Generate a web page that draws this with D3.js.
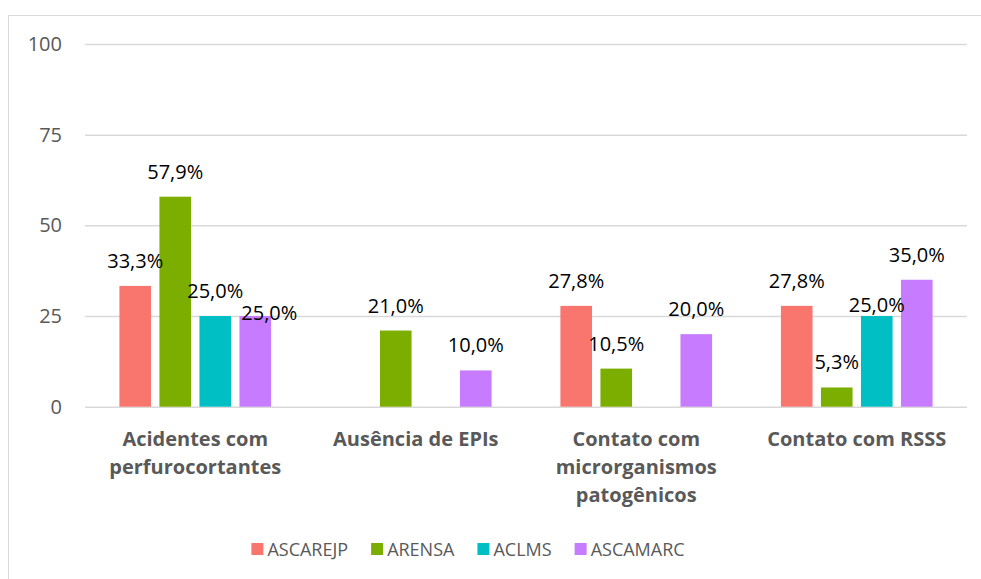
<!DOCTYPE html>
<html>
<head>
<meta charset="utf-8">
<script src="https://cdn.jsdelivr.net/npm/d3@7"></script>
<style>
  body { margin: 0; background: #fff; }
  text { font-family: "Open Sans", sans-serif; }
</style>
</head>
<body>
<svg id="barchart" width="981" height="579"></svg>
<script>
// data
var categories = [
  ["Acidentes com", "perfurocortantes"],
  ["Ausência de EPIs"],
  ["Contato com", "microrganismos", "patogênicos"],
  ["Contato com RSSS"]
];
var series = ["ASCAREJP", "ARENSA", "ACLMS", "ASCAMARC"];
var colors = ["#F8766D", "#7CAE00", "#00BFC4", "#C77CFF"];
var ascarejp = [33.3, null, 27.8, 27.8];
var arensa = [57.9, 21.0, 10.5, 5.3];
var aclms = [25.0, null, null, 25.0];
var ascamarc = [25.0, 10.0, 20.0, 35.0];
var yTicks = [0, 25, 50, 75, 100];

(function() {
  var values = [ascarejp, arensa, aclms, ascamarc];
  var catKeys = categories.map(function(c) { return c.join(" "); });

  var data = [];
  catKeys.forEach(function(cat, i) {
    series.forEach(function(s, j) {
      if (values[j][i] != null) data.push({ cat: cat, ci: i, series: s, si: j, value: values[j][i] });
    });
  });

  var svg = d3.select("#barchart");

  // chart frame
  svg.append("rect")
    .attr("x", 8.5).attr("y", 15.5)
    .attr("width", 990).attr("height", 600)
    .attr("fill", "none")
    .attr("stroke", "#d9d9d9");

  // scales
  var x0 = d3.scaleBand()
    .domain(catKeys)
    .range([85, 967])
    .padding(0);

  var x1 = d3.scaleBand()
    .domain(series)
    .range([0, x0.bandwidth()])
    .paddingInner(0.21)
    .paddingOuter(0.86);

  var y = d3.scaleLinear()
    .domain([0, 100])
    .range([406.7, 44]);

  var color = d3.scaleOrdinal().domain(series).range(colors);

  // gridlines + y labels
  var yAxis = svg.append("g")
    .attr("transform", "translate(85,0)")
    .call(d3.axisLeft(y).tickValues(yTicks).tickSize(-(967 - 85)).tickPadding(23));
  yAxis.select(".domain").remove();
  yAxis.selectAll(".tick line")
    .attr("stroke", "#d9d9d9")
    .attr("stroke-width", 1.5);
  yAxis.selectAll(".tick text")
    .attr("fill", "#595959")
    .attr("font-size", 20)
    .attr("font-family", "Open Sans, sans-serif");

  // bars
  var bars = svg.append("g").selectAll("rect")
    .data(data)
    .enter()
    .append("rect")
    .attr("x", function(d) { return x0(d.cat) + x1(d.series); })
    .attr("y", function(d) { return y(d.value); })
    .attr("width", x1.bandwidth())
    .attr("height", function(d) { return y(0) - y(d.value); })
    .attr("fill", function(d) { return color(d.series); });

  // value labels (a couple were pushed aside in the original to avoid overlap)
  var pt = d3.formatLocale({ decimal: ",", thousands: ".", grouping: [3], currency: ["", ""] });
  var fmt = pt.format(".1f");
  var nudge = { "0|ASCAMARC": [14, 22], "3|ACLMS": [0, 14] };

  svg.append("g").selectAll("text")
    .data(data)
    .enter()
    .append("text")
    .attr("x", function(d) {
      var n = nudge[d.ci + "|" + d.series] || [0, 0];
      return x0(d.cat) + x1(d.series) + x1.bandwidth() / 2 + n[0];
    })
    .attr("y", function(d) {
      var n = nudge[d.ci + "|" + d.series] || [0, 0];
      return y(d.value) - 18 + n[1];
    })
    .attr("text-anchor", "middle")
    .attr("font-size", 20)
    .attr("fill", "#000")
    .text(function(d) { return fmt(d.value) + "%"; });

  // category labels
  var cats = svg.append("g").selectAll("text")
    .data(categories)
    .enter()
    .append("text")
    .attr("text-anchor", "middle")
    .attr("font-size", 20)
    .attr("font-weight", "bold")
    .attr("fill", "#595959");
  cats.selectAll("tspan")
    .data(function(d, i) { return d.map(function(line) { return { line: line, ci: i }; }); })
    .enter()
    .append("tspan")
    .attr("x", function(d) { return x0(catKeys[d.ci]) + x0.bandwidth() / 2; })
    .attr("y", function(d, i) { return 446 + i * 28; })
    .text(function(d) { return d.line; });

  // legend
  var legend = svg.append("g");
  var items = legend.selectAll("g")
    .data(series)
    .enter()
    .append("g");
  items.append("rect")
    .attr("width", 12).attr("height", 12)
    .attr("y", 543)
    .attr("fill", function(d) { return color(d); });
  items.append("text")
    .attr("x", 16)
    .attr("y", 556)
    .attr("font-size", 18)
    .attr("fill", "#595959")
    .text(function(d) { return d; });

  var pos = 0;
  var offsets = [];
  items.each(function() {
    offsets.push(pos);
    pos += 16 + this.querySelector("text").getComputedTextLength() + 23;
  });
  var total = pos - 23;
  var start = 468 - total / 2;
  items.attr("transform", function(d, i) { return "translate(" + (start + offsets[i]) + ",0)"; });
})();
</script>
</body>
</html>
